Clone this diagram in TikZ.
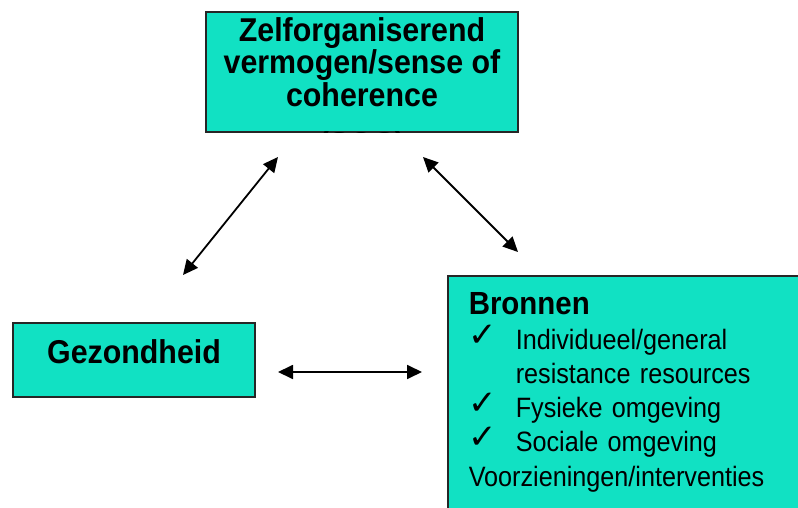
\documentclass[tikz,border=0pt]{standalone}
\usepackage{fontspec}
\setmainfont{Liberation Sans}
\newfontfamily\headfont{Liberation Sans}[FakeStretch=0.92]
\newfontfamily\bodyfont{Liberation Sans}[FakeStretch=0.9]
\newfontfamily\symfont{DejaVu Sans}
\usetikzlibrary{arrows.meta}
\definecolor{turq}{RGB}{17,225,195}

\newcommand{\chk}{\makebox[47pt][l]{\smash{\raisebox{3pt}{\symfont\fontsize{34}{34}\selectfont ✓}}}}

\begin{document}
\begin{tikzpicture}[x=1pt, y=-1pt,
	box/.style={draw=black!85, line width=1.5pt, fill=turq},
	title/.style={font=\headfont\bfseries\fontsize{33}{32.5}\selectfont, align=center},
	link/.style={line width=1.8pt, {Triangle[length=15pt,width=14pt]}-{Triangle[length=15pt,width=14pt]}}]
	
	\path[use as bounding box, clip] (0,0) rectangle (798,508);
	
	% Nodes
	\node[box, minimum width=312pt, minimum height=120pt] (zelf) at (362,72) {};
	\begin{scope}
		\clip (zelf.south west) rectangle (zelf.north east);
		\node[title, anchor=north, inner ysep=6pt] (zelftxt) at (zelf.north) {Zelforganiserend\\vermogen/sense of\\coherence\\[17pt](SOC)};
	\end{scope}
	\node[box, title, minimum width=242pt, minimum height=74pt, text depth=17pt] (gezond) at (134,360) {Gezondheid};
	\node[box, anchor=north west, text width=340pt, inner xsep=21pt, inner ysep=17pt, align=left,
		font=\bodyfont\fontsize{28}{34.3}\selectfont] (bronnen) at (447,275)
		{{\headfont\bfseries\fontsize{32}{35}\selectfont Bronnen}\\
		\chk Individueel/general\\
		\hspace*{47pt}resistance resources\\
		\chk Fysieke omgeving\\
		\chk Sociale omgeving\\
		Voorzieningen/interventies};
	
	% Free arrow ends
	\coordinate (a1) at (183,275);
	\coordinate (a2) at (278,157);
	\coordinate (b1) at (423,157);
	\coordinate (b2) at (518,252);
	\coordinate (c1) at (278,372);
	\coordinate (c2) at (422,372);
	
	% Arrows
	\draw[link] (a1) -- (a2);
	\draw[link] (b1) -- (b2);
	\draw[link] (c1) -- (c2);
\end{tikzpicture}
\end{document}
